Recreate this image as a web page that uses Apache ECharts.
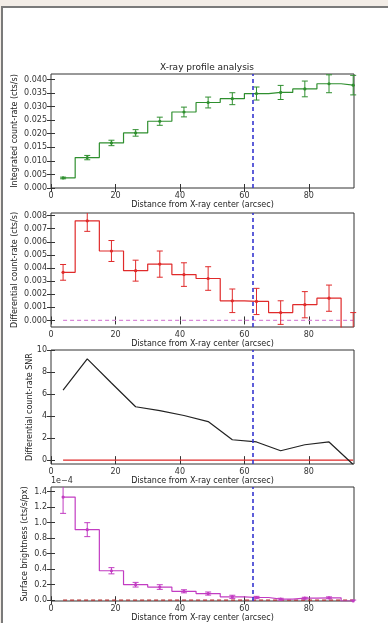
<!DOCTYPE html>
<html>
<head>
<meta charset="utf-8">
<script src="https://cdn.jsdelivr.net/npm/echarts@6/dist/echarts.min.js"></script>
<style>
  body { margin: 0; background: #f3ede7; }
  #frame { position: absolute; left: 1px; top: 6px; width: 387px; height: 617px; background: #fff;
           border-top: 2px solid #7a7a7a; border-left: 2px solid #7a7a7a; box-sizing: border-box; }
  #main { position: absolute; left: 0; top: 0; width: 388px; height: 623px; }
</style>
</head>
<body>
<div id="frame"></div>
<div id="main"></div>
<script>
  // bin centres (arcsec)
  var xs = [3.75, 11.25, 18.75, 26.25, 33.75, 41.25, 48.75, 56.25, 63.75, 71.25, 78.75, 86.25, 93.75]
  var integRate = [0.0037, 0.0112, 0.0166, 0.0203, 0.0246, 0.0280, 0.0315, 0.0329, 0.0348, 0.0352, 0.0365, 0.0384, 0.0379]
  var integErr = [0.0003, 0.0008, 0.0010, 0.0012, 0.0015, 0.0018, 0.0020, 0.0022, 0.0024, 0.0026, 0.0029, 0.0033, 0.0036]
  var diffRate = [0.00367, 0.0076, 0.0053, 0.0038, 0.0043, 0.0035, 0.0032, 0.0015, 0.00145, 0.0006, 0.0012, 0.0017, -0.0006]
  var diffErr = [0.0006, 0.0008, 0.0008, 0.0008, 0.0010, 0.0009, 0.0009, 0.0009, 0.0010, 0.0009, 0.0010, 0.0010, 0.0012]
  var snr = [6.35, 9.2, 7.0, 4.85, 4.5, 4.05, 3.5, 1.85, 1.65, 0.85, 1.4, 1.65, -0.4]
  var surfBright = [1.33, 0.91, 0.38, 0.20, 0.17, 0.115, 0.086, 0.044, 0.035, 0.013, 0.026, 0.031, -0.01] // x 1e-4
  var surfErr = [0.21, 0.09, 0.04, 0.03, 0.03, 0.02, 0.02, 0.02, 0.015, 0.012, 0.012, 0.012, 0.012]
  var regionRadius = 62.5

  var xTicks = [0, 20, 40, 60, 80]
  var yTicks = [
    [0, 0.005, 0.010, 0.015, 0.020, 0.025, 0.030, 0.035, 0.040],
    [0, 0.001, 0.002, 0.003, 0.004, 0.005, 0.006, 0.007, 0.008],
    [0, 2, 4, 6, 8, 10],
    [0, 0.2, 0.4, 0.6, 0.8, 1.0, 1.2, 1.4]
  ]
  var yRanges = [[0, 0.042], [-0.0005, 0.0082], [-0.35, 10], [-0.01, 1.46]]
  var yDigits = [3, 3, 0, 1]
  var yNames = ['Integrated count-rate (cts/s)', 'Differential count-rate (cts/s)', 'Differential count-rate SNR', 'Surface brightness (cts/s/px)']
  var yNameGaps = [32, 32, 17, 22]
  var xName = 'Distance from X-ray center (arcsec)'

  var font = 'DejaVu Sans'
  var green = '#2f8f2f', red = '#e02a2a', magenta = '#c23cc2', blue = '#3636d0'

  var gridTops = [74, 213, 350, 487]
  var grids = [], xAxes = [], yAxes = []
  gridTops.forEach(function (top, i) {
    grids.push({ left: 51, top: top, width: 303, height: 114, show: true, borderColor: '#333', borderWidth: 1, containLabel: false })
    var tick = { inside: true, length: 4, lineStyle: { color: '#333' }, customValues: xTicks }
    xAxes.push({
      type: 'value', gridIndex: i, min: 0, max: 94, position: 'bottom',
      axisLine: { show: false }, splitLine: { show: false }, axisTick: tick,
      axisLabel: { customValues: xTicks, fontFamily: font, fontSize: 8, color: '#333', margin: 4 },
      name: xName, nameLocation: 'middle', nameGap: 13, nameMoveOverlap: false,
      nameTextStyle: { fontFamily: font, fontSize: 8, color: '#222' }
    })
    xAxes.push({
      type: 'value', gridIndex: i, min: 0, max: 94, position: 'top',
      axisLine: { show: false }, splitLine: { show: false }, axisTick: tick, axisLabel: { show: false }
    })
    var ytick = { inside: true, length: 4, lineStyle: { color: '#333' }, customValues: yTicks[i] }
    yAxes.push({
      type: 'value', gridIndex: i, min: yRanges[i][0], max: yRanges[i][1], position: 'left',
      axisLine: { show: false }, splitLine: { show: false }, axisTick: ytick,
      axisLabel: {
        customValues: yTicks[i], fontFamily: font, fontSize: 8, color: '#333', margin: 4,
        formatter: (function (d) { return function (v) { return v.toFixed(d) } })(yDigits[i])
      },
      name: yNames[i], nameLocation: 'middle', nameGap: yNameGaps[i], nameMoveOverlap: false,
      nameTextStyle: { fontFamily: font, fontSize: 8, color: '#222' }
    })
    yAxes.push({
      type: 'value', gridIndex: i, min: yRanges[i][0], max: yRanges[i][1], position: 'right',
      axisLine: { show: false }, splitLine: { show: false }, axisTick: ytick, axisLabel: { show: false }
    })
  })

  function pairs (ys) { return xs.map(function (x, k) { return [x, ys[k]] }) }

  function errorBars (i, ys, errs, color) {
    return {
      type: 'custom', xAxisIndex: 2 * i, yAxisIndex: 2 * i, silent: true, z: 3,
      data: xs.map(function (x, k) { return [x, ys[k], errs[k]] }),
      renderItem: function (params, api) {
        var cs = params.coordSys
        var x = api.value(0), y = api.value(1), e = api.value(2)
        var top = api.coord([x, y + e]), bot = api.coord([x, y - e]), c = api.coord([x, y])
        var lo = cs.y, hi = cs.y + cs.height
        var style = { stroke: color, lineWidth: 1 }
        var kids = []
        var y1 = Math.max(top[1], lo), y2 = Math.min(bot[1], hi)
        if (y2 > y1) kids.push({ type: 'line', shape: { x1: c[0], y1: y1, x2: c[0], y2: y2 }, style: style })
        if (top[1] >= lo && top[1] <= hi) kids.push({ type: 'line', shape: { x1: c[0] - 3, y1: top[1], x2: c[0] + 3, y2: top[1] }, style: style })
        if (bot[1] >= lo && bot[1] <= hi) kids.push({ type: 'line', shape: { x1: c[0] - 3, y1: bot[1], x2: c[0] + 3, y2: bot[1] }, style: style })
        if (c[1] >= lo && c[1] <= hi) kids.push({ type: 'circle', shape: { cx: c[0], cy: c[1], r: 1.6 }, style: { fill: color } })
        return { type: 'group', children: kids }
      }
    }
  }

  function regionLine () {
    return {
      silent: true, symbol: 'none', label: { show: false },
      lineStyle: { color: blue, type: [4, 3], width: 1.6 },
      data: [{ xAxis: regionRadius }]
    }
  }

  function stepLine (i, ys, color) {
    return {
      type: 'line', xAxisIndex: 2 * i, yAxisIndex: 2 * i, data: pairs(ys), step: 'middle',
      showSymbol: false, lineStyle: { color: color, width: 1.2 }, z: 2, markLine: regionLine()
    }
  }

  function zeroLine (i, color, dashed) {
    return {
      type: 'line', xAxisIndex: 2 * i, yAxisIndex: 2 * i, data: xs.map(function (x) { return [x, 0] }),
      showSymbol: false, silent: true, z: 1,
      lineStyle: { color: color, width: 1.2, type: dashed ? [4, 3] : 'solid' }
    }
  }

  var series = [
    stepLine(0, integRate, green),
    errorBars(0, integRate, integErr, green),
    zeroLine(1, '#d889d8', true),
    stepLine(1, diffRate, red),
    errorBars(1, diffRate, diffErr, red),
    zeroLine(2, red, false),
    {
      type: 'line', xAxisIndex: 4, yAxisIndex: 4, data: pairs(snr), showSymbol: false,
      lineStyle: { color: '#222', width: 1.2 }, z: 2, markLine: regionLine()
    },
    zeroLine(3, '#b03030', true),
    stepLine(3, surfBright, magenta),
    errorBars(3, surfBright, surfErr, magenta)
  ]

  var chart = echarts.init(document.getElementById('main'), null, { renderer: 'canvas' })
  chart.setOption({
    animation: false,
    backgroundColor: 'transparent',
    title: {
      text: 'X-ray profile analysis', left: 202, top: 58, textAlign: 'center',
      textStyle: { fontFamily: font, fontSize: 9, fontWeight: 'normal', color: '#222' }
    },
    graphic: [{
      type: 'text', left: 51, top: 477,
      style: { text: '1e\u22124', font: '8px "DejaVu Sans"', fill: '#333' }
    }],
    grid: grids,
    xAxis: xAxes,
    yAxis: yAxes,
    series: series
  })
</script>
</body>
</html>
